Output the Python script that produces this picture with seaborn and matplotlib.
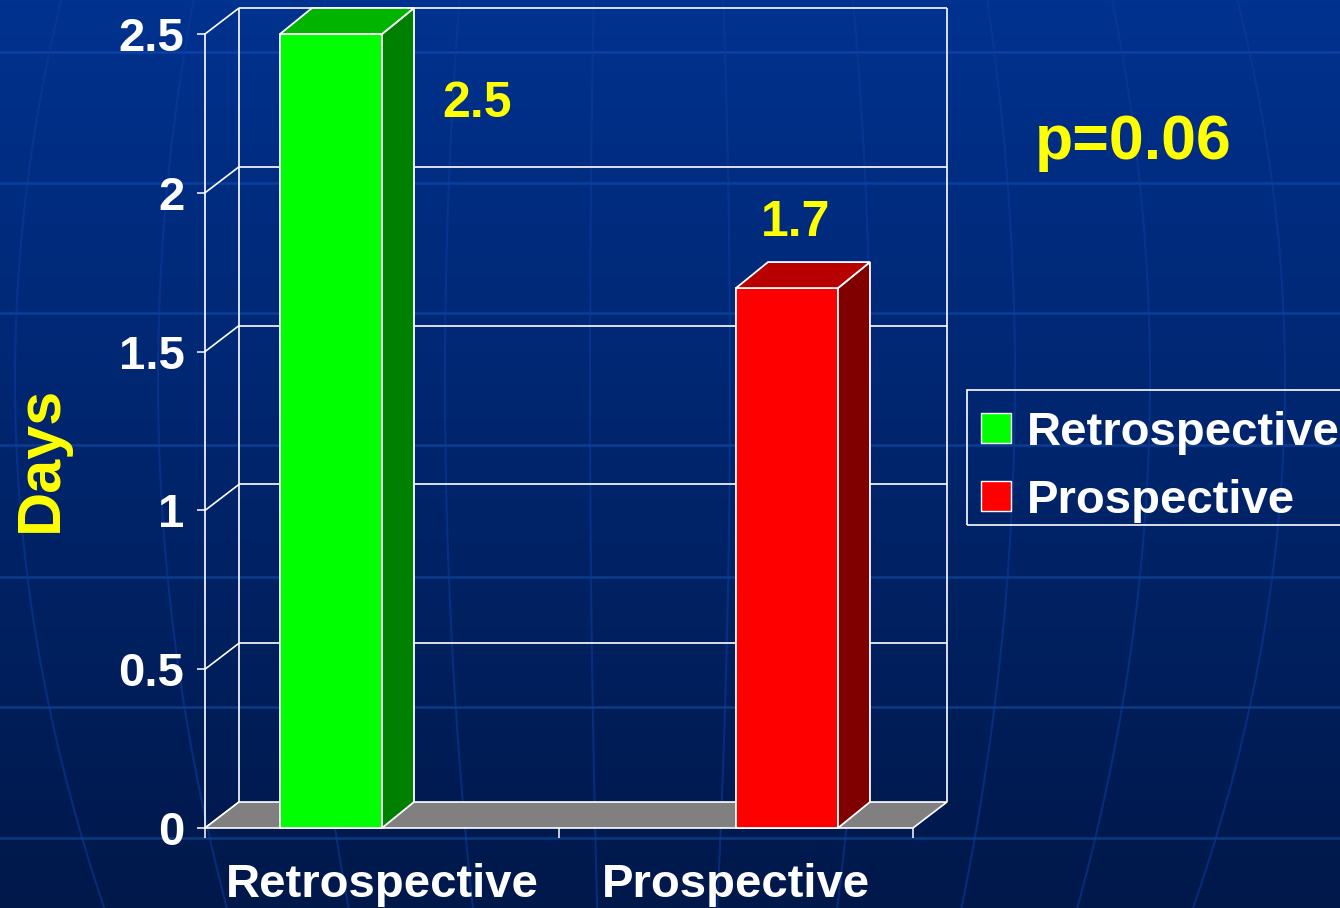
import numpy as np
import pandas as pd
import seaborn as sns
import matplotlib.pyplot as plt
from matplotlib.patches import Polygon, Rectangle
from matplotlib.colors import LinearSegmentedColormap, to_rgb

# ---- data ----
studies = ["Retrospective", "Prospective"]
days = [2.5, 1.7]
value_labels = ["2.5", "1.7"]
y_ticks = [0, 0.5, 1, 1.5, 2, 2.5]
y_tick_labels = ["0", "0.5", "1", "1.5", "2", "2.5"]
y_title = "Days"
p_value_text = "p=0.06"

# ---- styles ----
front_colors = {"Retrospective": "#00FF00", "Prospective": "#FF0000"}
side_colors = {"Retrospective": "#008000", "Prospective": "#800000"}
top_colors = {"Retrospective": "#00B400", "Prospective": "#B80000"}
YELLOW = "#FFFF00"
W, H = 1340, 908

sns.set_theme(style="white")
plt.rcParams["font.family"] = ["Liberation Sans", "DejaVu Sans"]
plt.rcParams["font.weight"] = "bold"

fig = plt.figure(figsize=(W / 100, H / 100), dpi=100)


def fx(px):
    return px / W


def fy(py):
    return 1 - py / H


# ---- slide background: blue gradient with a faint globe grid ----
bg = fig.add_axes([0, 0, 1, 1], zorder=-10)
grad = np.linspace(0, 1, H)[:, None]
bg.imshow(grad, aspect="auto",
          cmap=LinearSegmentedColormap.from_list("slide", ["#00328F", "#00184A"]),
          extent=(0, W, H, 0))
bg.set_xlim(0, W)
bg.set_ylim(H, 0)
bg.axis("off")
c_top, c_bot = np.array(to_rgb("#0b40a8")), np.array(to_rgb("#0b3a7a"))
for yy in [52, 183, 313, 445, 577, 707, 838]:
    t = yy / H
    bg.axhline(yy, color=c_top * (1 - t) + c_bot * t, lw=1.8)
ys = np.linspace(0, H, 200)
mer_x = [15, 158, 300, 445, 590, 730, 870, 1015, 1150, 1285]
for mx in mer_x:
    k = 3.2e-4 - 6.5e-4 * (mx - 15) / 1270
    bg.plot(mx + k * (ys - 380) ** 2, ys, color="#0c3c9e", lw=1.5, alpha=0.55)

# ---- chart axes: front plane of the 3D box ----
ax = fig.add_axes([fx(205), fy(828), 708 / W, 794 / H])
ax.patch.set_alpha(0)
df = pd.DataFrame({"study": studies, "days": days})
sns.barplot(data=df, x="study", y="days", hue="study", order=studies,
            hue_order=studies, dodge=True, width=0.576, palette=front_colors,
            saturation=1, edgecolor="white", linewidth=1.3, legend=False,
            ax=ax, zorder=4)
bars = sorted([p for p in ax.patches if p.get_height() > 0], key=lambda p: p.get_x())

ax.set_xlim(-0.5, 1.5)
ax.set_ylim(0, 2.5)
ax.set_xlabel("")
ax.set_ylabel("")

# pixel -> data conversion for the depth offsets
px_x = 2.0 / 708
px_y = 2.5 / 794
dxw, dyw = 34 * px_x, 26 * px_y      # wall depth
dxb, dyb = 32 * px_x, 26 * px_y      # bar depth
LW = 1.2
line_kw = dict(color="white", lw=LW, clip_on=False, zorder=1,
               solid_capstyle="butt")

# back wall gridlines and left-side diagonals
for v in y_ticks:
    if v > 0:
        ax.plot([-0.5 + dxw, 1.5 + dxw], [v + dyw, v + dyw], **line_kw)
    ax.plot([-0.5, -0.5 + dxw], [v, v + dyw], **line_kw)
ax.plot([-0.5 + dxw, -0.5 + dxw], [dyw, y_ticks[-1] + dyw], **line_kw)
ax.plot([1.5 + dxw, 1.5 + dxw], [dyw, y_ticks[-1] + dyw], **line_kw)

# floor
ax.add_patch(Polygon([(-0.5, 0), (1.5, 0), (1.5 + dxw, dyw), (-0.5 + dxw, dyw)],
                     closed=True, facecolor="#808080", edgecolor="white",
                     lw=LW, clip_on=False, zorder=2))

# bar sides and tops
for bar, study in zip(bars, studies):
    x0 = bar.get_x()
    x1 = x0 + bar.get_width()
    h = bar.get_height()
    bar.set_clip_on(False)
    ax.add_patch(Polygon([(x1, 0), (x1 + dxb, dyb), (x1 + dxb, h + dyb), (x1, h)],
                         closed=True, facecolor=side_colors[study],
                         edgecolor="white", lw=1.3, clip_on=False, zorder=4))
    ax.add_patch(Polygon([(x0, h), (x0 + dxb, h + dyb), (x1 + dxb, h + dyb), (x1, h)],
                         closed=True, facecolor=top_colors[study],
                         edgecolor="white", lw=1.3, clip_on=False, zorder=4))

# value labels
label_offsets = [(45, -69), (-17, 28)]  # points, from the bar's back-top corner/centre
for i, (bar, text, off) in enumerate(zip(bars, value_labels, label_offsets)):
    x0 = bar.get_x()
    x1 = x0 + bar.get_width()
    h = bar.get_height()
    anchor = (x1 + dxb, h + dyb) if i == 0 else ((x0 + x1) / 2 + dxb, h + dyb)
    ax.annotate(text, xy=anchor, xytext=off, textcoords="offset points",
                ha="center", va="center", color=YELLOW, fontsize=36,
                fontweight="bold", annotation_clip=False, zorder=6)

# axes, ticks, labels
for s in ["top", "right", "bottom"]:
    ax.spines[s].set_visible(False)
ax.spines["left"].set_color("white")
ax.spines["left"].set_linewidth(LW)
ax.spines["left"].set_zorder(1)
ax.set_yticks(y_ticks, y_tick_labels)
ax.tick_params(axis="y", colors="white", length=5.8, width=1.1, pad=9,
               labelsize=34, left=True)
ax.set_xticks([-0.5, 0.5, 1.5], ["", "", ""])
ax.set_xticks([0, 1], studies, minor=True)
ax.tick_params(axis="x", which="major", color="white", length=7.2, width=1.1,
               bottom=True, direction="out")
ax.tick_params(axis="x", which="minor", length=0, pad=25, labelsize=34,
               labelcolor="white", bottom=True)
for lab in ax.get_yticklabels() + ax.get_xticklabels(minor=True):
    lab.set_fontweight("bold")
ax.grid(False)

fig.text(fx(41), fy(459), y_title, rotation=90, ha="center", va="center",
         color=YELLOW, fontsize=44, fontweight="bold")
fig.text(fx(1133), fy(143), p_value_text, ha="center", va="center",
         color=YELLOW, fontsize=45, fontweight="bold")

# legend box (runs off the right edge of the slide)
fig.add_artist(Rectangle((fx(967), fy(525)), (1400 - 967) / W, 135 / H,
                         transform=fig.transFigure, fill=False,
                         edgecolor="white", lw=LW))
for study, row_y in zip(studies, [428, 496]):
    fig.add_artist(Rectangle((fx(981), fy(row_y + 15)), 30 / W, 30 / H,
                             transform=fig.transFigure,
                             facecolor=front_colors[study],
                             edgecolor="white", lw=1))
    fig.text(fx(1027), fy(row_y), study, ha="left", va="center_baseline",
             color="white", fontsize=34, fontweight="bold")

fig.savefig("out.png", dpi=100)
